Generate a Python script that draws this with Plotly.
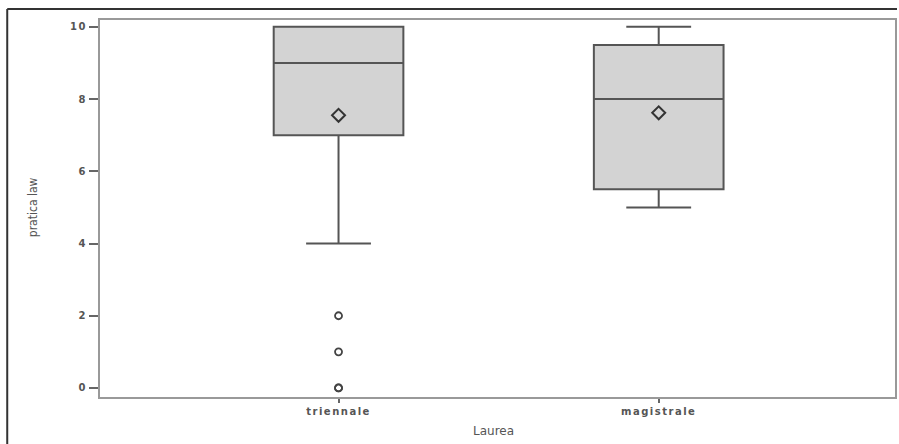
import plotly.graph_objects as go

categories = ["triennale", "magistrale"]
q1 = [7, 5.5]
median = [9, 8]
q3 = [10, 9.5]
lowerfence = [4, 5]
upperfence = [10, 10]
means = [7.55, 7.62]
outlier_cat = ["triennale", "triennale", "triennale", "triennale"]
outlier_val = [2, 1, 0, 0]
yticks = [0, 2, 4, 6, 8, 10]

W, H = 899, 444
ml, mr, mt, mb = 100, 2, 20, 47
pw, ph = W - ml - mr, H - mt - mb

fig = go.Figure()
fig.add_trace(go.Box(
    x=categories, q1=q1, median=median, q3=q3,
    lowerfence=lowerfence, upperfence=upperfence,
    fillcolor="#d3d3d3", line=dict(color="#555555", width=2),
    width=0.405, whiskerwidth=0.5, boxpoints=False, hoverinfo="skip",
    showlegend=False,
))
fig.add_trace(go.Scatter(
    x=categories, y=means, mode="markers",
    marker=dict(symbol="diamond-open", size=10, color="#333333", line=dict(width=2, color="#333333")),
    showlegend=False,
))
fig.add_trace(go.Scatter(
    x=outlier_cat, y=outlier_val, mode="markers",
    marker=dict(symbol="circle-open", size=7, color="#444444", line=dict(width=1.8, color="#444444")),
    showlegend=False,
))

def px2x(px):
    return (px - ml) / pw

def py2y(py):
    return (H - mb - py) / ph

shapes = [
    dict(type="line", xref="paper", yref="paper", x0=px2x(7), x1=px2x(899), y0=py2y(9), y1=py2y(9),
         line=dict(color="#333333", width=2)),
    dict(type="line", xref="paper", yref="paper", x0=px2x(7), x1=px2x(7), y0=py2y(9), y1=py2y(444),
         line=dict(color="#333333", width=2)),
]

annotations = [
    dict(text="pratica law", xref="paper", yref="paper", x=px2x(33), y=py2y(207),
         showarrow=False, textangle=-90, xanchor="center", yanchor="middle",
         font=dict(size=12, color="#555555",
                   family="Liberation Sans Narrow, DejaVu Sans Condensed, sans-serif")),
    dict(text="Laurea", xref="paper", yref="paper", x=px2x(494), y=py2y(431),
         showarrow=False, xanchor="center", yanchor="middle",
         font=dict(size=12, color="#555555", family="DejaVu Sans, sans-serif")),
]

fig.update_layout(
    width=W, height=H,
    margin=dict(l=ml, r=mr, t=mt, b=mb),
    plot_bgcolor="white", paper_bgcolor="white",
    shapes=shapes, annotations=annotations,
    font=dict(family="DejaVu Sans, sans-serif", color="#555555", size=10),
    xaxis=dict(
        type="category", categoryorder="array", categoryarray=categories,
        range=[-0.745, 1.738], showgrid=False, zeroline=False,
        showline=True, linecolor="#999999", linewidth=2, mirror=True,
        ticks="outside", ticklen=4, tickcolor="#666666", tickwidth=1.5,
        tickfont=dict(size=10, color="#555555", weight="bold"),
    ),
    yaxis=dict(
        range=[-0.25, 10.19], tickvals=yticks, showgrid=False, zeroline=False,
        showline=True, linecolor="#999999", linewidth=2, mirror=True,
        ticks="outside", ticklen=9, tickcolor="#666666", tickwidth=1.5,
        tickfont=dict(size=10, color="#555555", weight="bold"),
    ),
)

post = """
document.body.style.margin = '0';
document.querySelectorAll('.xtick text, .ytick text').forEach(function(t){
  t.style.letterSpacing = '1.5px';
});
"""

fig.write_html("out.html", post_script=post, config={"displayModeBar": False})
